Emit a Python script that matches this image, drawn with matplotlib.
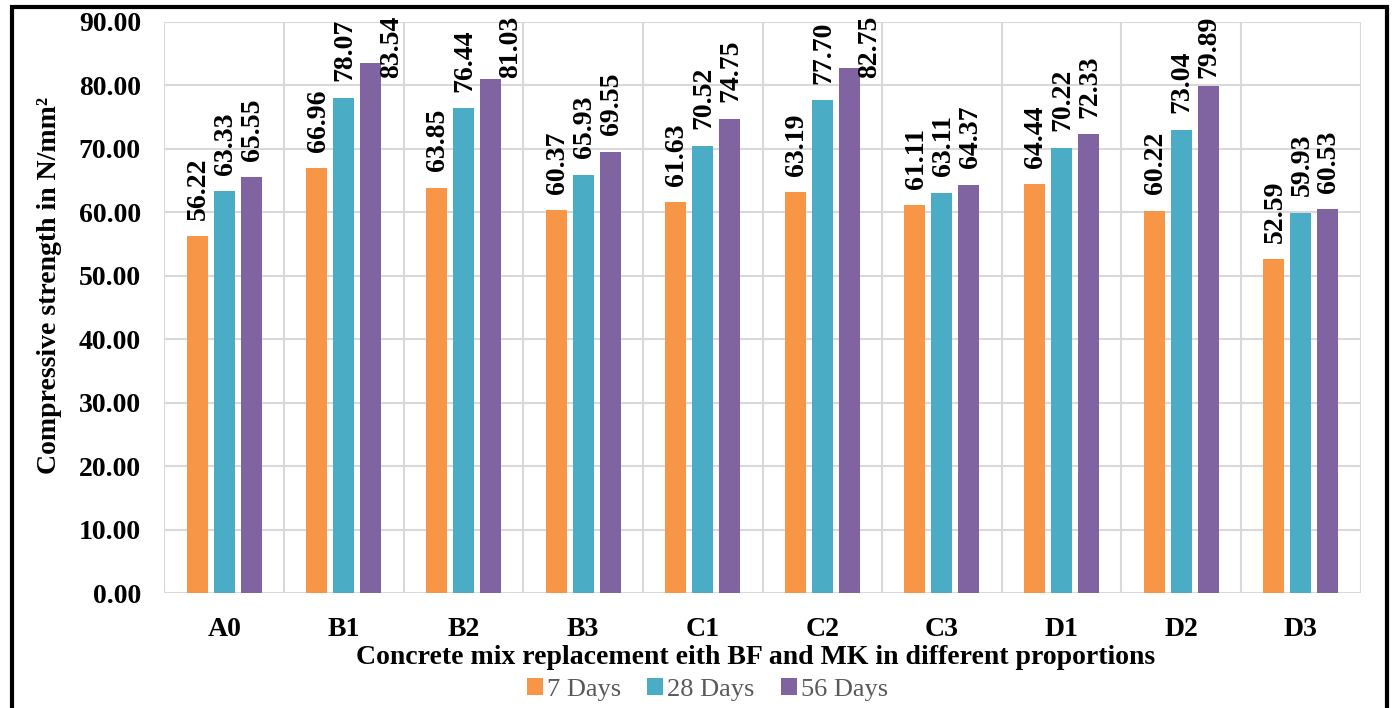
import numpy as np
import matplotlib.pyplot as plt
from matplotlib.patches import Rectangle

mixes = ["A0", "B1", "B2", "B3", "C1", "C2", "C3", "D1", "D2", "D3"]
days_7 = [56.22, 66.96, 63.85, 60.37, 61.63, 63.19, 61.11, 64.44, 60.22, 52.59]
days_28 = [63.33, 78.07, 76.44, 65.93, 70.52, 77.70, 63.11, 70.22, 73.04, 59.93]
days_56 = [65.55, 83.54, 81.03, 69.55, 74.75, 82.75, 64.37, 72.33, 79.89, 60.53]

series = [("7 Days", days_7, "#F79646"),
          ("28 Days", days_28, "#4BACC6"),
          ("56 Days", days_56, "#8064A2")]

plt.rcParams["font.family"] = ["Liberation Serif", "DejaVu Serif"]

fig = plt.figure(figsize=(13.94, 7.08), dpi=100)
ax = fig.add_axes([0.118, 0.162, 0.858, 0.807])

x = np.arange(len(mixes))
width = 0.176
step = 0.226
# label geometry in data units (gap above bar, label length, top limit)
gap = 2.6
lab_len = 9.9
top_lim = 91.0
for i, (name, vals, col) in enumerate(series):
    pos = x + (i - 1) * step
    ax.bar(pos, vals, width, color=col, label=name, zorder=3)
    for p, v in zip(pos, vals):
        txt = f"{v:.2f}"
        if v + gap + lab_len <= top_lim:
            ax.text(p + 0.01, v + gap, txt, rotation=90, ha="center", va="bottom",
                    fontsize=20, fontweight="bold", zorder=4, clip_on=False)
        else:
            xp = p + 0.01
            if top_lim - lab_len < v + 0.5:
                xp = p + 0.17  # no room above: Excel puts it beside the bar
            ax.text(xp, top_lim, txt, rotation=90, ha="center", va="top",
                    fontsize=20, fontweight="bold", zorder=4, clip_on=False)

ax.set_xlim(-0.5, len(mixes) - 0.5)
ax.set_ylim(0, 90)
ax.set_yticks(np.arange(0, 91, 10))
ax.set_yticklabels([f"{t:.2f}" for t in np.arange(0, 91, 10)], fontsize=20, fontweight="bold")
ax.set_xticks(x)
ax.set_xticklabels(mixes, fontsize=20, fontweight="bold")
ax.set_xticks(np.arange(-0.5, len(mixes), 1), minor=True)
ax.tick_params(axis="both", which="both", length=0)
ax.tick_params(axis="x", pad=17)
ax.tick_params(axis="y", pad=17)
ax.grid(axis="y", which="major", color="#D9D9D9", linewidth=1.5, zorder=0)
ax.grid(axis="x", which="minor", color="#D9D9D9", linewidth=1.5, zorder=0)
for s in ax.spines.values():
    s.set_visible(False)

ax.set_xlabel("Concrete mix replacement eith BF and MK in different proportions",
              fontsize=20, fontweight="bold")
ax.xaxis.set_label_coords(0.4946, -0.09)
ax.set_ylabel("Compressive strength in N/mm²", fontsize=20, fontweight="bold")
ax.yaxis.set_label_coords(-0.086, 0.539)

leg = ax.legend(loc="center", bbox_to_anchor=(0.454, -0.168), ncol=3, frameon=False,
                fontsize=19, handlelength=0.6, handleheight=0.6, handletextpad=0.15,
                columnspacing=1.0)
for t in leg.get_texts():
    t.set_color("#595959")

fig.patches.append(Rectangle((0.0085, -0.02), 0.9865, 1.01, transform=fig.transFigure,
                             fill=False, edgecolor="black", linewidth=3))

fig.savefig("out.png", dpi=100)
